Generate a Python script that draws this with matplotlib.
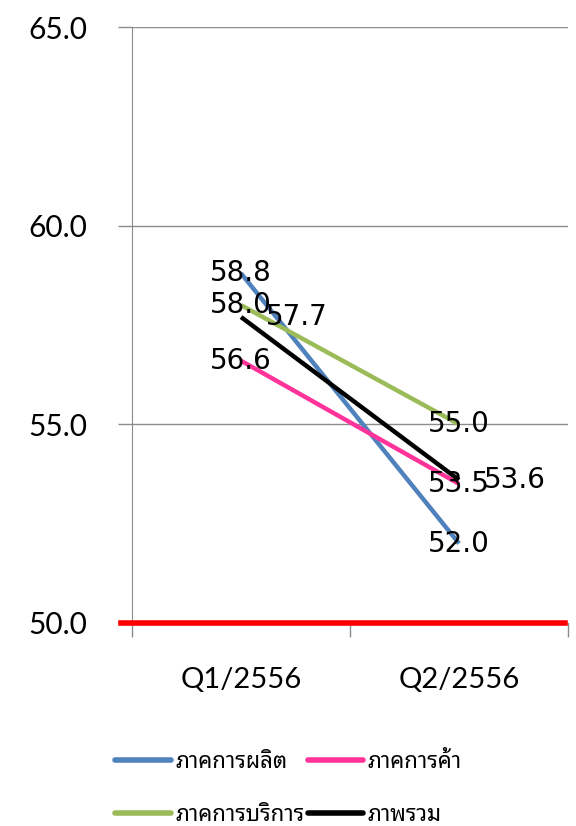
import matplotlib
matplotlib.use('Agg')
import matplotlib.pyplot as plt

quarters = ['Q1/2556', 'Q2/2556']
manufacturing = [58.8, 52.0]
trade = [56.6, 53.5]
services = [58.0, 55.0]
overall = [57.7, 53.6]
names = ['ภาคการผลิต', 'ภาคการค้า', 'ภาคการบริการ', 'ภาพรวม']
colors = ['#4F81BD', '#FF3399', '#9BBB59', '#000000']
yticks = [50, 55, 60, 65]

grid_col = '#8C8C8C'

fig = plt.figure(figsize=(5.76, 8.26), dpi=100)
ax = fig.add_axes([0.2292, 0.2458, 0.757, 0.7215])

x = [0, 1]
series = [manufacturing, trade, services, overall]
lines = []
for vals, name, col in zip(series, names, colors):
    l, = ax.plot(x, vals, color=col, lw=3.2, label=name, solid_capstyle='butt', zorder=3)
    lines.append(l)

# data labels, the overall series is shifted to the right
for vals, col in zip(series, colors):
    dx = 40 if col == '#000000' else 0
    for xi, v in zip(x, vals):
        ax.annotate('%.1f' % v, (xi, v), xytext=(dx, 0), textcoords='offset points',
                    ha='center', va='center', fontsize=20, family='DejaVu Sans',
                    color='black', zorder=5)

# red 50 line
ax.axhline(50, xmin=-0.025, xmax=0.993, color='red', lw=4, clip_on=False, zorder=4)

ax.set_xlim(-0.5, 1.5)
ax.set_ylim(50, 65)
ax.set_yticks(yticks)
ax.set_yticklabels(['%.1f' % t for t in yticks])
ax.set_xticks([-0.5, 0.5, 1.5], minor=False)
ax.set_xticklabels([])
ax.set_xticks(x, minor=True)
ax.set_xticklabels(quarters, minor=True)
ax.tick_params(axis='x', which='major', length=10, width=1, color=grid_col, direction='out')
ax.tick_params(axis='x', which='minor', length=0, pad=32, labelsize=21)
ax.tick_params(axis='y', length=10, width=1, color=grid_col, direction='out', pad=22, labelsize=21.5)
for lab in ax.get_xticklabels(minor=True) + ax.get_yticklabels():
    lab.set_family(['Lato', 'DejaVu Sans'])

ax.grid(axis='y', color=grid_col, lw=1)
ax.set_axisbelow(True)
for s in ['top', 'right']:
    ax.spines[s].set_visible(False)
ax.spines['left'].set_color(grid_col)
ax.spines['bottom'].set_color(grid_col)

# legend fills by column, so reorder to get rows like the original
order = [0, 2, 1, 3]
leg = fig.legend([lines[i] for i in order], [names[i] for i in order],
                 loc='upper left', bbox_to_anchor=(0.2, 0.09), ncol=2, frameon=False,
                 prop={'family': ['Noto Sans Thai Looped', 'DejaVu Sans'], 'size': 16},
                 handlelength=2.5, handletextpad=0.2, columnspacing=0.15, labelspacing=1.45,
                 borderpad=0, borderaxespad=0)
for h in leg.legend_handles:
    h.set_linewidth(4)
    h.set_solid_capstyle('round')

fig.savefig('out.png')
